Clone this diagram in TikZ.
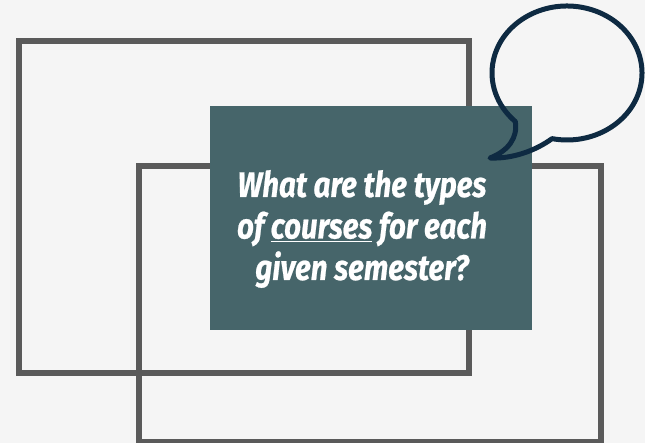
\documentclass[tikz,border=0pt]{standalone}
\usepackage{fontspec}
\newfontfamily\qfont[FakeStretch=0.83,BoldItalicFeatures={FakeBold=0.6}]{Fira Sans}
\definecolor{bgcol}{HTML}{F5F5F5}
\definecolor{framecol}{HTML}{5A5A5A}
\definecolor{tealcol}{HTML}{46656A}
\definecolor{navycol}{HTML}{0E2A42}
\newcommand{\ulword}[1]{\setbox0\hbox{#1}\rlap{\rule[-4pt]{\wd0}{1.8pt}}\box0\relax}
\tikzset{
  frame/.style={draw=framecol,line width=6pt},
  qbox/.style={fill=tealcol,minimum width=322pt,minimum height=224pt,inner sep=0pt},
  qtext/.style={text=white,align=center,font=\qfont\bfseries\itshape\fontsize{35.5}{41.5}\selectfont},
  bubble/.style={draw=navycol,line width=5pt,line join=round,line cap=round}
}
\begin{document}
\begin{tikzpicture}[x=1pt,y=1pt]
    \fill[bgcol] (0,0) rectangle (645,443);
    \useasboundingbox (0,0) rectangle (645,443);
    % frames
    \coordinate (F1a) at (19,402);
    \coordinate (F1b) at (469,70);
    \coordinate (F2a) at (139,277);
    \coordinate (F2b) at (601,1);
    \draw[frame] (F1a) rectangle (F1b);
    \draw[frame] (F2a) rectangle (F2b);
    % question
    \node[qbox] (box) at (371,225) {};
    \node[qtext] (question) at (362,214) {What are the types\\of \ulword{courses} for each\\given semester?};
    % speech bubble
    \coordinate (tailR) at (552.05,304.35);
    \coordinate (tip) at (490,285);
    \draw[bubble] (tailR) arc[start angle=258.5,end angle=586.4,x radius=75pt,y radius=67pt]
        .. controls (518,305) and (508,292) .. (tip)
        .. controls (512,284) and (535,292) .. (tailR) -- cycle;
\end{tikzpicture}
\end{document}
